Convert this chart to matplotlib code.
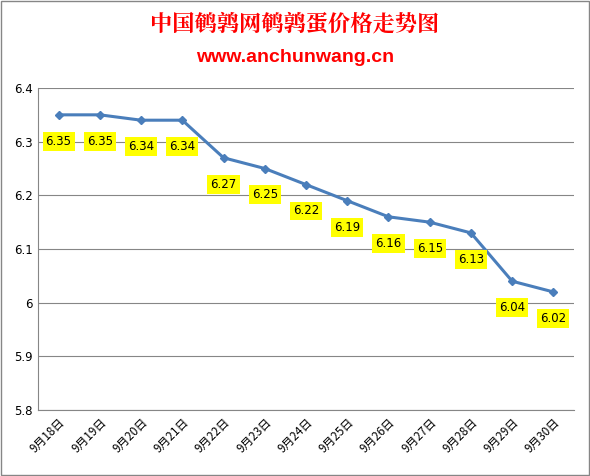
import matplotlib.pyplot as plt
from matplotlib.patches import Rectangle

plt.rcParams['font.family'] = ['Noto Sans CJK SC', 'DejaVu Sans']

dates = ["9月18日", "9月19日", "9月20日", "9月21日", "9月22日", "9月23日", "9月24日",
         "9月25日", "9月26日", "9月27日", "9月28日", "9月29日", "9月30日"]
prices = [6.35, 6.35, 6.34, 6.34, 6.27, 6.25, 6.22, 6.19, 6.16, 6.15, 6.13, 6.04, 6.02]
yticks = [5.8, 5.9, 6.0, 6.1, 6.2, 6.3, 6.4]
ylabels = ["5.8", "5.9", "6", "6.1", "6.2", "6.3", "6.4"]


def main():
    fig = plt.figure(figsize=(5.9, 4.76), dpi=100)
    ax = fig.add_axes([38 / 590, 1 - 410 / 476, 536 / 590, 322 / 476])
    x = list(range(len(dates)))
    ax.plot(x, prices, color='#4A7EBB', lw=2.2, marker='D', ms=4.5)
    for xi, p in zip(x, prices):
        ax.annotate("%g" % p, (xi, p), xytext=(0, -19), textcoords='offset points',
                    ha='center', va='center', fontsize=8.5, family='DejaVu Sans',
                    bbox=dict(boxstyle='square,pad=0.25', fc='#FFFF00', ec='none'))
    ax.set_xlim(-0.5, len(dates) - 0.5)
    ax.set_ylim(5.8, 6.4)
    ax.set_yticks(yticks)
    ax.set_yticklabels(ylabels, fontsize=8.5, family='DejaVu Sans')
    ax.set_xticks(x)
    ax.set_xticklabels(dates, rotation=45, ha='right', rotation_mode='anchor', fontsize=8.5)
    ax.grid(axis='y', color='#868686', lw=0.8)
    ax.tick_params(length=0, pad=4)
    for s in ['top', 'right']:
        ax.spines[s].set_visible(False)
    for s in ['left', 'bottom']:
        ax.spines[s].set_color('#868686')
    ax.set_axisbelow(True)
    fig.text(0.5, 1 - 24 / 476, "中国鹌鹑网鹌鹑蛋价格走势图", color='#FF0000', fontsize=16,
             ha='center', va='center', weight='bold',
             family=['Noto Serif CJK SC', 'Noto Sans CJK SC'])
    fig.text(0.5, 1 - 58 / 476, "www.anchunwang.cn", color='#FF0000', fontsize=14,
             ha='center', va='center', weight='bold', family='Liberation Sans')
    fig.patches.append(Rectangle((0.002, 0.002), 0.996, 0.996, transform=fig.transFigure,
                                 fill=False, ec='#868686', lw=1))
    fig.savefig("out.png", dpi=100)
    plt.close(fig)


if __name__ == "__main__":
    main()
